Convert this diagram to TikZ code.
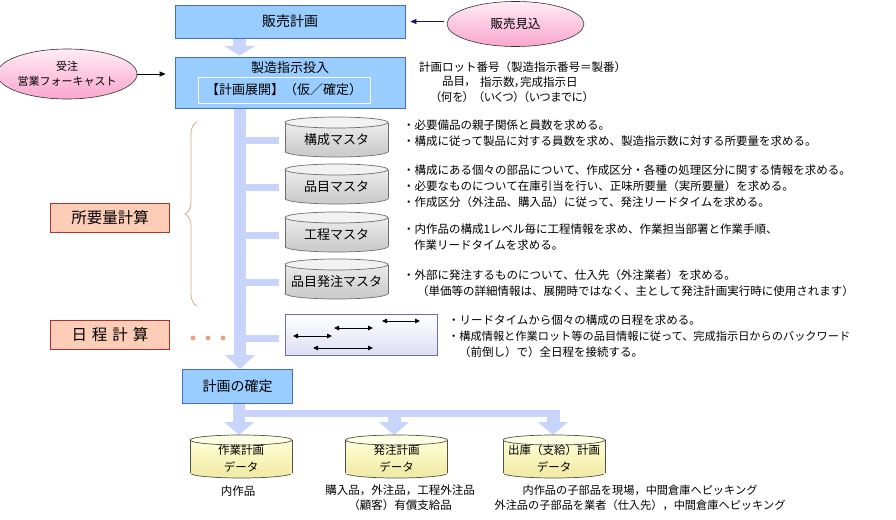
\documentclass[tikz,border=0pt]{standalone}
\usepackage{fontspec}
\setmainfont{Noto Sans CJK JP}
\usetikzlibrary{shapes.geometric,arrows.meta,decorations.pathreplacing}
\definecolor{boxfill}{RGB}{153,204,255}
\definecolor{boxline}{RGB}{70,110,190}
\definecolor{flowc}{RGB}{200,212,250}
\definecolor{salfill}{RGB}{253,205,183}
\definecolor{salline}{RGB}{170,50,40}
\definecolor{pinktop}{RGB}{255,236,245}
\definecolor{pinkbot}{RGB}{250,165,205}
\definecolor{navyc}{RGB}{20,20,110}
\definecolor{bracec}{RGB}{215,175,130}
\definecolor{dotc}{RGB}{235,160,120}
\definecolor{graytop}{RGB}{242,242,242}
\definecolor{graybodyA}{RGB}{236,236,236}
\definecolor{graybodyB}{RGB}{205,205,205}
\definecolor{grayline}{RGB}{110,110,110}
\definecolor{yeltop}{RGB}{255,255,228}
\definecolor{yelbodyA}{RGB}{255,255,215}
\definecolor{yelbodyB}{RGB}{242,236,168}
\definecolor{yelline}{RGB}{80,80,80}
\definecolor{ganttline}{RGB}{110,110,160}
\definecolor{ganttbot}{RGB}{222,222,245}
\newcommand\myfs[1]{\fontsize{#1}{#1}\selectfont}
% name, xc, ytop, ybot, halfwidth, ry, prefix
\newcommand\dbcyl[7]{%
  \filldraw[fill=#7bodyB, draw=#7line, line width=0.7pt] (#2,#4) ellipse ({#5pt} and {#6pt});
  \fill[top color=#7bodyA, bottom color=#7bodyB] (#2-#5,#3) rectangle (#2+#5,#4);
  \draw[#7line, line width=0.7pt] (#2-#5,#3) -- (#2-#5,#4) (#2+#5,#3) -- (#2+#5,#4);
  \filldraw[fill=#7top, draw=#7line, line width=0.7pt] (#2,#3) ellipse ({#5pt} and {#6pt});
  \coordinate (#1) at (#2,#3);
}
\begin{document}
\begin{tikzpicture}[x=1pt,y=-1pt,
  bluebox/.style={draw=boxline, fill=boxfill, line width=0.8pt, inner sep=0pt},
  salbox/.style={draw=salline, fill=salfill, line width=0.8pt, inner sep=0pt,
     minimum width=119pt, minimum height=29pt, font=\myfs{15.5}},
  pinkell/.style={ellipse, draw=black!80, line width=0.6pt, top color=pinktop, bottom color=pinkbot, inner sep=0pt},
  txt/.style={anchor=west, inner sep=0pt, font=\myfs{11.5}},
  ptxt/.style={anchor=west, inner sep=0pt, font=\myfs{11.5}\addfontfeature{RawFeature=+palt}},
  ctxt/.style={inner sep=0pt, font=\myfs{11.5}},
  gar/.style={{Triangle[length=5pt,width=4.5pt]}-{Triangle[length=5pt,width=4.5pt]}, line width=0.8pt},
  flow/.style={fill=flowc}
]
\useasboundingbox (0,0) rectangle (896,519);
\fill[white] (0,0) rectangle (896,519);

% ---- flow shapes
\fill[flow] (233,38) rectangle (246,46);
\fill[flow] (224,46) -- (255,46) -- (239.5,55.5) -- cycle;
\fill[flow] (234,108) rectangle (246,356);
\fill[flow] (225,355) -- (255,355) -- (240,369) -- cycle;
\foreach \yy in {140,187,235,282,338}{
  \fill[flow] (246,\yy-3.5) rectangle (279,\yy+3.5);
}
\fill[flow] (233,403) rectangle (245,423);
\fill[flow] (233,410) rectangle (560,417);
\fill[flow] (387.5,417) rectangle (400.5,423);
\fill[flow] (546.5,417) rectangle (559.5,423);
\foreach \xx in {239,394,553}{
  \fill[flow] (\xx-15,422) -- (\xx+15,422) -- (\xx,435) -- cycle;
}

% ---- top boxes
\node[bluebox, minimum width=230pt, minimum height=33pt, font=\myfs{14}] (sales) at (290,21.5) {販売計画};
\node[bluebox, minimum width=230pt, minimum height=51pt] (mfg) at (290,82.5) {};
\node[inner sep=0pt, font=\myfs{13}] (mfgt) at (290,67.5) {製造指示投入};
\node[draw=white, line width=0.7pt, minimum width=172pt, minimum height=26pt, inner sep=0pt, font=\myfs{13}] (expand) at (284,90) {【計画展開】（仮／確定）};

\node[pinkell, minimum width=137pt, minimum height=45pt, font=\myfs{12.5}] (forecast) at (515.5,24) {販売見込};
\node[pinkell, minimum width=132pt, minimum height=50pt, align=center, font=\fontsize{11}{15}\selectfont] (order) at (67,74) {受注\\営業フォーキャスト};

\draw[navyc, line width=0.8pt, -{Triangle[length=6pt,width=5pt]}] ([xshift=-3pt]forecast.west |- sales.east) -- ([xshift=5pt]sales.east);
\draw[black, line width=0.8pt, -{Triangle[length=6pt,width=5pt]}] (order.east) -- ([xshift=-9pt]mfg.west |- order.east);

% ---- lot text
\node[txt] (lot) at (419,67) {計画ロット番号（製造指示番号＝製番）};
\node[ptxt] (w1) at (442,82) {品目，};
\node[ptxt] (w2) at (480,82) {指示数，};
\node[ptxt] (w3) at (520,82) {完成指示日};
\node[ptxt] (q1) at (435,97) {（何を）};
\node[ptxt] (q2) at (478,97) {（いくつ）};
\node[ptxt] (q3) at (523,97) {（いつまでに）};

% ---- gray cylinders
\dbcyl{c1}{336.5}{122.5}{151.5}{51.5}{5.5}{gray}
\dbcyl{c2}{336.5}{169.5}{198.5}{51.5}{5.5}{gray}
\dbcyl{c3}{336.5}{217.5}{246.5}{51.5}{5.5}{gray}
\dbcyl{c4}{336.5}{264.5}{293.5}{51.5}{5.5}{gray}
\node[ctxt, font=\myfs{13}] (c1t) at (336.5,140) {構成マスタ};
\node[ctxt, font=\myfs{13}] (c2t) at (336.5,187) {品目マスタ};
\node[ctxt, font=\myfs{13}] (c3t) at (336.5,235) {工程マスタ};
\node[ctxt, font=\myfs{13}] (c4t) at (336.5,282) {品目発注マスタ};

% ---- descriptions
\node[txt] (d1a) at (403,125) {・必要備品の親子関係と員数を求める。};
\node[txt] (d1b) at (403,141) {・構成に従って製品に対する員数を求め、製造指示数に対する所要量を求める。};
\node[txt] (d2a) at (403,170) {・構成にある個々の部品について、作成区分・各種の処理区分に関する情報を求める。};
\node[txt] (d2b) at (403,186) {・必要なものについて在庫引当を行い、正味所要量（実所要量）を求める。};
\node[txt] (d2c) at (403,202) {・作成区分（外注品、購入品）に従って、発注リードタイムを求める。};
\node[txt] (d3a) at (403,229) {・内作品の構成1レベル毎に工程情報を求め、作業担当部署と作業手順、};
\node[txt] (d3b) at (414,245) {作業リードタイムを求める。};
\node[txt] (d4a) at (403,275) {・外部に発注するものについて、仕入先（外注業者）を求める。};
\node[txt] (d4b) at (417,291) {（単価等の詳細情報は、展開時ではなく、主として発注計画実行時に使用されます）};

% ---- brace & left labels
\draw[bracec, line width=0.8pt, decorate, decoration={brace, amplitude=12pt}] (197,306) -- (197,122);
\node[salbox] (req) at (110,217.5) {所要量計算};
\node[salbox] (sched) at (110,334.5) {日\hspace{5pt}程\hspace{5pt}計\hspace{5pt}算};
\foreach \xx in {193,208,223}{ \fill[dotc] (\xx,338) circle (2.4pt); }

% ---- gantt box
\node[draw=ganttline, line width=0.7pt, top color=white, bottom color=ganttbot, minimum width=152pt, minimum height=41pt, inner sep=0pt] (gantt) at (361,334.5) {};
\draw[gar] (293,336) -- (332,336);
\draw[gar] (334,328) -- (373,328);
\draw[gar] (382,321) -- (420,321);
\draw[gar] (313,348) -- (373,348);
\node[txt] (g1) at (448,320) {・リードタイムから個々の構成の日程を求める。};
\node[txt, font=\myfs{11.2}] (g2) at (448,336) {・構成情報と作業ロット等の品目情報に従って、完成指示日からのバックワード};
\node[txt] (g3) at (459,352) {（前倒し）で）全日程を接続する。};

% ---- confirm box
\node[bluebox, minimum width=110pt, minimum height=34pt, font=\myfs{14}] (confirm) at (237.5,386) {計画の確定};

% ---- yellow cylinders
\dbcyl{y1}{241}{440}{473}{51}{5}{yel}
\dbcyl{y2}{396.5}{440}{473}{51}{5}{yel}
\dbcyl{y3}{554}{440}{473}{51}{5}{yel}
\node[ctxt, align=center, font=\fontsize{11.5}{17}\selectfont] (y1t) at (241,458) {作業計画\\データ};
\node[ctxt, align=center, font=\fontsize{11.5}{17}\selectfont] (y2t) at (396.5,458) {発注計画\\データ};
\node[ctxt, align=center, font=\fontsize{11.5}{17}\selectfont] (y3t) at (554,458) {出庫（支給）計画\\データ};

\node[ctxt] (l1) at (238,491) {内作品};
\node[ctxt, align=center, font=\fontsize{11.5}{15}\selectfont] (l2) at (400,498) {購入品，外注品，工程外注品\\（顧客）有償支給品};
\node[ctxt, align=center, font=\fontsize{11.2}{15}\selectfont] (l3) at (640,498) {内作品の子部品を現場，中間倉庫へピッキング\\外注品の子部品を業者（仕入先），中間倉庫へピッキング};
\end{tikzpicture}
\end{document}
